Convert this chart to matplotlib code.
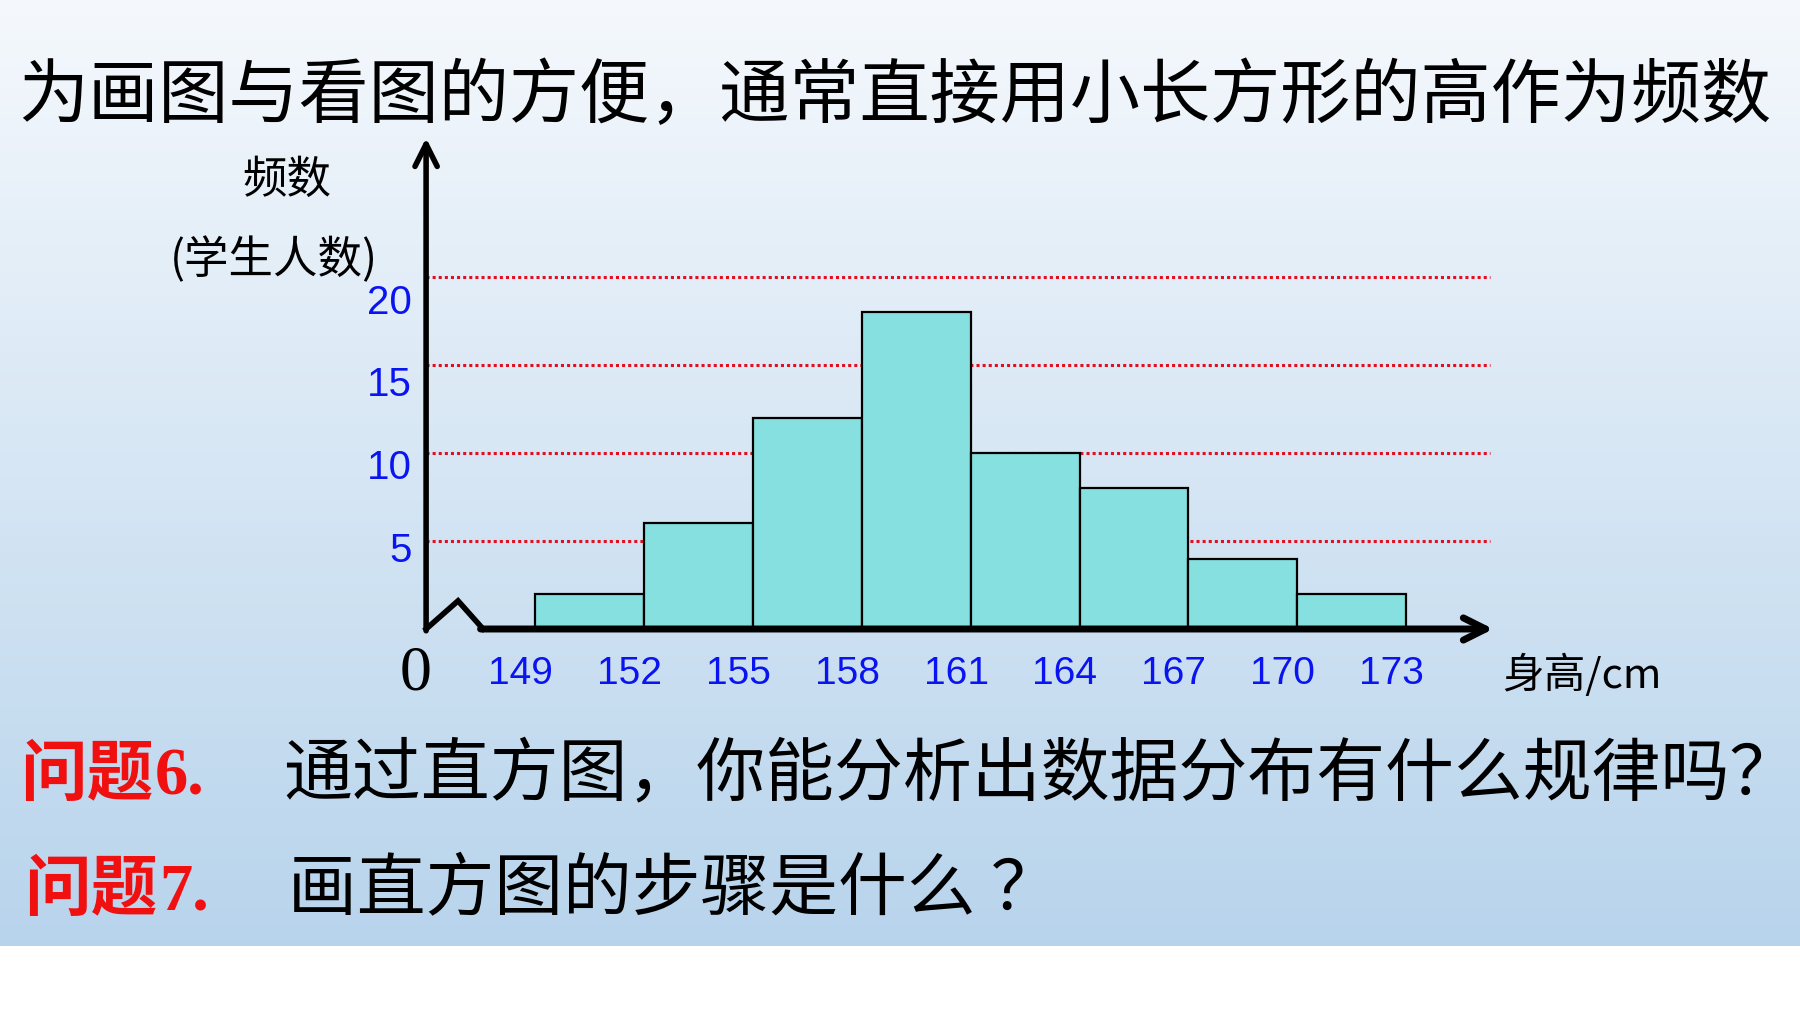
import numpy as np
import matplotlib
matplotlib.use('Agg')
import matplotlib.pyplot as plt

plt.rcParams['font.family'] = ['Noto Sans CJK SC', 'DejaVu Sans']

# data: height bins (cm) and number of students
edges = [149, 152, 155, 158, 161, 164, 167, 170, 173]
freqs = [2, 6, 12, 18, 10, 8, 4, 2]
yticks = [5, 10, 15, 20]

title = '为画图与看图的方便，通常直接用小长方形的高作为频数'
q6_text = '通过直方图，你能分析出数据分布有什么规律吗？'
q7_text = '画直方图的步骤是什么 ？'

W, H = 1800, 1012
fig = plt.figure(figsize=(W / 100, H / 100), dpi=100)


def fp(x, y):
    # pixel position -> figure fraction
    return x / W, 1 - y / H


# slide background: light gradient, white strip at the bottom
top = np.array([0.96, 0.975, 0.99])
bot = np.array([0.72, 0.83, 0.925])
grad = np.ones((H, 1, 3))
cut = 947
t = np.linspace(0, 1, cut)[:, None]
grad[:cut, 0, :] = top * (1 - t) + bot * t
bg = fig.add_axes([0, 0, 1, 1])
bg.imshow(grad, extent=[0, 1, 0, 1], aspect='auto')
bg.axis('off')

# chart axes, spanning the figure (x in cm, y in students)
ax = fig.add_axes([0, 0, 1, 1])
ax.patch.set_alpha(0)
ax.set_xlim(149 - 535 / 36.3, 149 + (W - 535) / 36.3)
ax.set_ylim((630 - H) / 17.6, 630 / 17.6)
ax.axis('off')

# red dotted guide lines
ax.hlines(yticks, 146.0, 175.3, colors='#E01020', linestyles=(0, (1, 1)),
          lw=2.2, zorder=1)

# histogram bars
ax.bar(edges[:-1], freqs, width=3, align='edge', color='#86E0DF',
       edgecolor='black', lw=1.6, zorder=3)

# axes with arrows and the broken start
ax.annotate('', xy=(146.0, 27.9), xytext=(146.0, -0.1),
            arrowprops=dict(arrowstyle='->', lw=4, color='black',
                            mutation_scale=40, shrinkA=0, shrinkB=0), zorder=4)
ax.annotate('', xy=(175.4, 0), xytext=(147.5, 0),
            arrowprops=dict(arrowstyle='->', lw=5, color='black',
                            mutation_scale=40, shrinkA=0, shrinkB=0), zorder=4)
ax.plot([146.0, 146.88, 147.57], [0, 1.6, 0], color='black', lw=4,
        solid_joinstyle='miter', zorder=4)

# tick labels
for v in yticks:
    ax.text(145.6, v * 0.94 - 0.2, str(v), color='#0A14F0', fontsize=29,
            family=['Liberation Sans'], ha='right', va='center')
for e in edges:
    ax.text(e - 0.4, -2.5, str(e), color='#0A14F0', fontsize=28,
            family=['Liberation Sans'], ha='center', va='center')
ax.text(145.72, -2.55, '0', fontsize=46, family=['Liberation Serif'],
        ha='center', va='center')

# axis titles
fig.text(*fp(287, 180), '频数', fontsize=32, ha='center', va='center')
fig.text(*fp(274, 260), '(学生人数)', fontsize=32, ha='center', va='center')
fig.text(*fp(1502, 675), '身高/cm', fontsize=30, ha='left', va='center')

# slide texts
fig.text(*fp(18, 97), title, fontsize=50.5, ha='left', va='center')

fig.text(*fp(20, 775), '问题', fontsize=48, color='#F01010',
         weight='bold', ha='left', va='center')
fig.text(*fp(155, 778), '6.', fontsize=48, color='#F01010', weight='bold',
         family=['Liberation Serif'], ha='left', va='center')
fig.text(*fp(283, 775), q6_text, fontsize=49.6, ha='left', va='center')

fig.text(*fp(24, 890), '问题', fontsize=48, color='#F01010',
         weight='bold', ha='left', va='center')
fig.text(*fp(159, 893), '7.', fontsize=48, color='#F01010', weight='bold',
         family=['Liberation Serif'], ha='left', va='center')
fig.text(*fp(288, 890), q7_text, fontsize=49.5, ha='left', va='center')

fig.savefig('out.png', dpi=100)
